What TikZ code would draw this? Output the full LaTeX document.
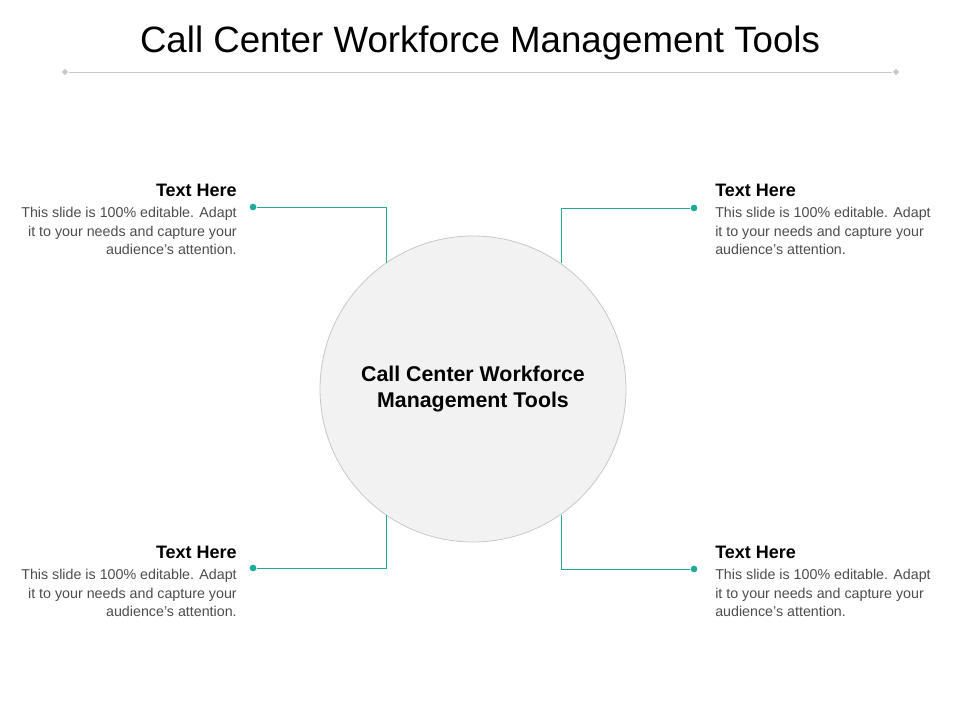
\documentclass[tikz,border=0pt]{standalone}
\usepackage{fontspec}
\setmainfont{Liberation Sans}
\usetikzlibrary{shapes.geometric}
\definecolor{tl}{RGB}{30,170,150}
\definecolor{gl}{RGB}{200,200,200}
\tikzset{
 conn/.style={draw=tl,line width=0.6pt},
 dotn/.style={circle,fill=tl,inner sep=0pt,minimum size=5pt},
 headR/.style={anchor=east,font=\bfseries\fontsize{13.5}{16}\selectfont,inner sep=0pt},
 headL/.style={anchor=west,font=\bfseries\fontsize{13.5}{16}\selectfont,inner sep=0pt},
 bodyR/.style={anchor=north east,align=right,font=\fontsize{10.7}{13.9}\selectfont,text=black!70,inner sep=0pt},
 bodyL/.style={anchor=north west,align=left,font=\fontsize{10.7}{13.9}\selectfont,text=black!70,inner sep=0pt},
 dia/.style={diamond,fill=gl,inner sep=0pt,minimum size=5pt}
}
\begin{document}
\begin{tikzpicture}[x=0.75pt,y=-0.75pt]
\useasboundingbox (0,0) rectangle (960,720);
\node[font=\fontsize{27.5}{32}\selectfont] (title) at (480,43) {Call Center Workforce Management Tools};
\node[dia] (dl) at (65,72) {};
\node[dia] (dr) at (896,72) {};
\draw[gl,line width=0.6pt] (dl) -- (dr);
\node[circle,fill=black!5,draw=gl,line width=0.6pt,minimum size=306*0.75pt,inner sep=0pt,align=center,font=\bfseries\fontsize{16}{19.5}\selectfont] (c) at (473,389) {Call Center Workforce\\Management Tools};
\node[dotn] (d1) at (253,207) {};
\node[dotn] (d2) at (694,208) {};
\node[dotn] (d3) at (253,568) {};
\node[dotn] (d4) at (694,569) {};
\coordinate (e1) at (386,263);
\coordinate (e2) at (561,263);
\coordinate (e3) at (386,515);
\coordinate (e4) at (561,515);
\draw[conn] (d1) -| (e1);
\draw[conn] (d2) -| (e2);
\draw[conn] (d3) -| (e3);
\draw[conn] (d4) -| (e4);
\node[headR] (h1) at (237,190) {Text Here};
\node[headL] (h2) at (715,190) {Text Here};
\node[headR] (h3) at (237,552) {Text Here};
\node[headL] (h4) at (715,552) {Text Here};
\node[bodyR] (b1) at (237,207) {This slide is 100\% editable. Adapt\\it to your needs and capture your\\audience's attention.};
\node[bodyL] (b2) at (715,207) {This slide is 100\% editable. Adapt\\it to your needs and capture your\\audience's attention.};
\node[bodyR] (b3) at (237,569) {This slide is 100\% editable. Adapt\\it to your needs and capture your\\audience's attention.};
\node[bodyL] (b4) at (715,569) {This slide is 100\% editable. Adapt\\it to your needs and capture your\\audience's attention.};
\end{tikzpicture}
\end{document}
